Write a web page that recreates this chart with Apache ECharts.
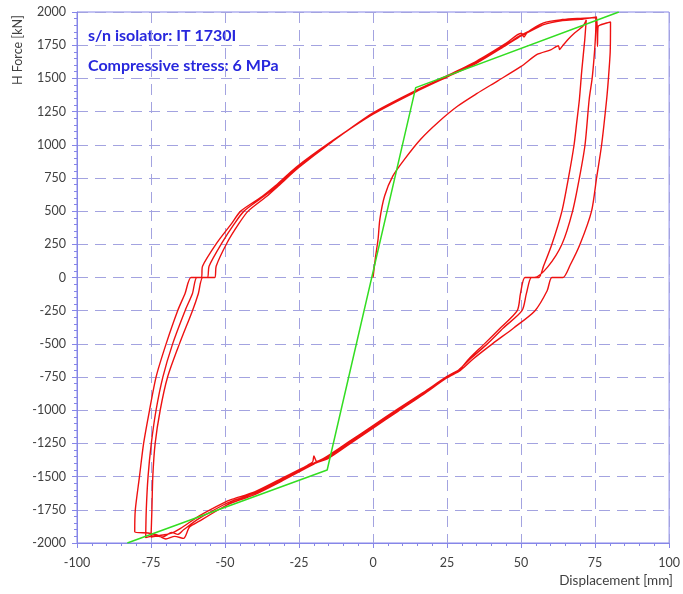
<!DOCTYPE html>
<html>
<head>
<meta charset="utf-8">
<script src="https://cdn.jsdelivr.net/npm/echarts@6/dist/echarts.min.js"></script>
<style>
  html, body { margin: 0; padding: 0; background: #fff; }
  #main { width: 683px; height: 594px; }
</style>
</head>
<body>
<div id="main"></div>
<script>
// tick settings
var xTicks = [-100, 100, 25];
var yTicks = [-2000, 2000, 250];

// green bilinear model
var model = [[-83, -2000], [-15.5, -1450], [14.4, 1430], [83, 2000]];

// first loading from zero
var virgin = [[0,0],[0.8,150],[1.7,290],[2.3,440],[3.9,614],[6.7,765],[10.6,890],[16,1040],[22,1170],
  [28.5,1290],[35,1385],[42,1480],[50,1590],[55.4,1680],[60,1715],[62.6,1746],[63,1718],[64,1745],
  [66,1796],[67.7,1834],[71,1897],[72,1940]];

// cycle 1
var down1 = [[72,1940],[71.8,1880],[71.5,1790],[70.5,1560],[69.7,1343],[68.8,1170],[67.9,1000],[66,750],
  [63.8,500],[60.4,250],[57.5,80],[56,0],[53.5,0],[51.8,-120],[50.3,-250],[44,-380],[38.6,-500],
  [33,-610],[29,-695],[25,-745],[17,-865],[8.4,-990],[0,-1115],[-8,-1235],[-15,-1340],[-19,-1385],
  [-20,-1345],[-20.5,-1392],[-31,-1515],[-40,-1615],[-47.5,-1670],[-50.3,-1695],[-58.7,-1795],
  [-65,-1890],[-68,-1925],[-71,-1940],[-75,-1955]];
var up1 = [[-75,-1955],[-74.7,-1750],[-74.4,-1500],[-73.6,-1250],[-71.9,-1000],[-69.4,-750],[-65.4,-500],
  [-61,-250],[-59,-120],[-57.5,0],[-53.5,0],[-53,85],[-49.3,262],[-45.5,400],[-42.2,500],[-36,610],
  [-32,690],[-25,830],[-14,1020],[0,1240],[15,1415],[25,1520],[35,1630],[45,1765],[50,1840],[51,1812],
  [52,1845],[57.6,1918],[64,1943],[69,1952],[75.3,1958]];

// cycle 2
var down2 = [[75.3,1958],[75.2,1850],[74.8,1700],[74,1500],[73,1343],[71.6,1000],[69.7,750],[67.4,500],
  [63.8,250],[59,80],[54.5,0],[51.3,0],[49.8,-120],[48.7,-250],[43,-380],[37.6,-500],[32.5,-610],
  [29,-700],[25,-752],[17,-875],[8.4,-1000],[0,-1125],[-8,-1245],[-15,-1350],[-20,-1398],[-31,-1525],
  [-40,-1625],[-47.5,-1682],[-50.3,-1710],[-58.7,-1815],[-64,-1900],[-66,-1935],[-68,-1920],[-71,-1955],
  [-74,-1945],[-76.8,-1960]];
var up2 = [[-76.8,-1960],[-76.6,-1750],[-76,-1500],[-74.9,-1250],[-73.3,-1000],[-71,-750],[-67.7,-500],
  [-63.5,-250],[-61,-120],[-59.5,0],[-56,0],[-55.4,85],[-51,262],[-47,400],[-43.6,500],[-37,610],
  [-32.5,690],[-25.5,830],[-14.5,1015],[0,1235],[15,1410],[25,1515],[35,1622],[45,1755],[50,1825],
  [57.6,1905],[64,1935],[70,1945],[75.5,1962],[75.8,1740],[76,1890],[78.9,1917],[80.2,1925]];

// cycle 3
var down3 = [[80.2,1925],[80.1,1700],[79.5,1500],[78.9,1343],[77.2,1000],[75.5,750],[73.8,500],[69.9,250],
  [66.5,90],[64.1,0],[60.4,0],[58.8,-100],[54.7,-250],[47.5,-380],[40.3,-500],[34,-610],[29.5,-700],
  [25,-755],[17,-880],[8.4,-1008],[0,-1135],[-8,-1255],[-15,-1360],[-20,-1405],[-31,-1535],[-40,-1635],
  [-47.5,-1695],[-50.3,-1725],[-58.7,-1835],[-62,-1880],[-64,-1965],[-67,-1950],[-70,-1970],[-73,-1940],
  [-76,-1925],[-80.5,-1915]];
var up3 = [[-80.5,-1915],[-80.3,-1750],[-78.9,-1500],[-77.5,-1250],[-75.5,-1000],[-73.3,-750],[-69.9,-500],
  [-66,-250],[-63.5,-120],[-61.5,0],[-58,0],[-57.6,85],[-52.7,262],[-48,400],[-44.7,500],[-37.5,610],
  [-33,690],[-26,830],[-15,1010],[0,1230],[15,1405],[25,1510],[35,1615],[45,1750],[50,1820],[57,1900]];

var redPath = virgin.concat(down1, up1, down2, up2, down3, up3);

var chartDom = document.getElementById('main');
var myChart = echarts.init(chartDom);
var option;

var axisCol = '#8686e8';
var gridCol = '#a3a3e0';
var labelFont = 'Lato, "Open Sans", sans-serif';

option = {
  animation: false,
  grid: {
    left: 77,
    right: 10,
    top: 12,
    bottom: 51,
    show: true,
    borderColor: axisCol,
    borderWidth: 1
  },
  xAxis: {
    type: 'value',
    min: xTicks[0],
    max: xTicks[1],
    interval: xTicks[2],
    axisLine: { onZero: false, lineStyle: { color: axisCol, width: 1 } },
    axisTick: { length: 5, lineStyle: { color: axisCol } },
    minorTick: { show: true, splitNumber: 5, length: 3, lineStyle: { color: axisCol } },
    axisLabel: { color: '#404040', fontSize: 12.5, fontFamily: labelFont, margin: 13 },
    splitLine: { show: true, lineStyle: { color: gridCol, type: [11, 7], width: 1 } }
  },
  yAxis: {
    type: 'value',
    min: yTicks[0],
    max: yTicks[1],
    interval: yTicks[2],
    axisLine: { show: true, onZero: false, lineStyle: { color: axisCol, width: 1 } },
    axisTick: { show: true, length: 5, lineStyle: { color: axisCol } },
    minorTick: { show: true, splitNumber: 5, length: 3, lineStyle: { color: axisCol } },
    axisLabel: {
      color: '#404040', fontSize: 12.5, fontFamily: labelFont, margin: 11,
      formatter: function (v) { return String(v); }
    },
    splitLine: { show: true, lineStyle: { color: gridCol, type: [11, 7], width: 1 } }
  },
  graphic: [
    {
      type: 'text', left: 88, top: 28,
      style: { text: 's/n isolator: IT 1730I', fill: '#2727dd', font: 'bold 16px Lato, sans-serif' }
    },
    {
      type: 'text', left: 88, top: 58,
      style: { text: 'Compressive stress: 6 MPa', fill: '#2727dd', font: 'bold 16px Lato, sans-serif' }
    },
    {
      type: 'text', x: 11, y: 85, rotation: Math.PI / 2,
      style: { text: 'H Force [kN]', fill: '#404040', font: '12.5px Lato, sans-serif' }
    },
    {
      type: 'text', right: 10, top: 574,
      style: { text: 'Displacement [mm]', fill: '#404040', font: '13.5px Lato, sans-serif' }
    }
  ],
  series: [
    {
      name: 'test',
      type: 'line',
      data: redPath,
      showSymbol: false,
      smooth: 0.25,
      lineStyle: { color: '#ee1111', width: 1.4 },
      z: 3
    },
    {
      name: 'model',
      type: 'line',
      data: model,
      showSymbol: false,
      lineStyle: { color: '#33dd22', width: 1.5 },
      z: 4
    }
  ]
};

option && myChart.setOption(option);
window.addEventListener("resize", function() {
    myChart.resize();
  });
</script>
</body>
</html>
